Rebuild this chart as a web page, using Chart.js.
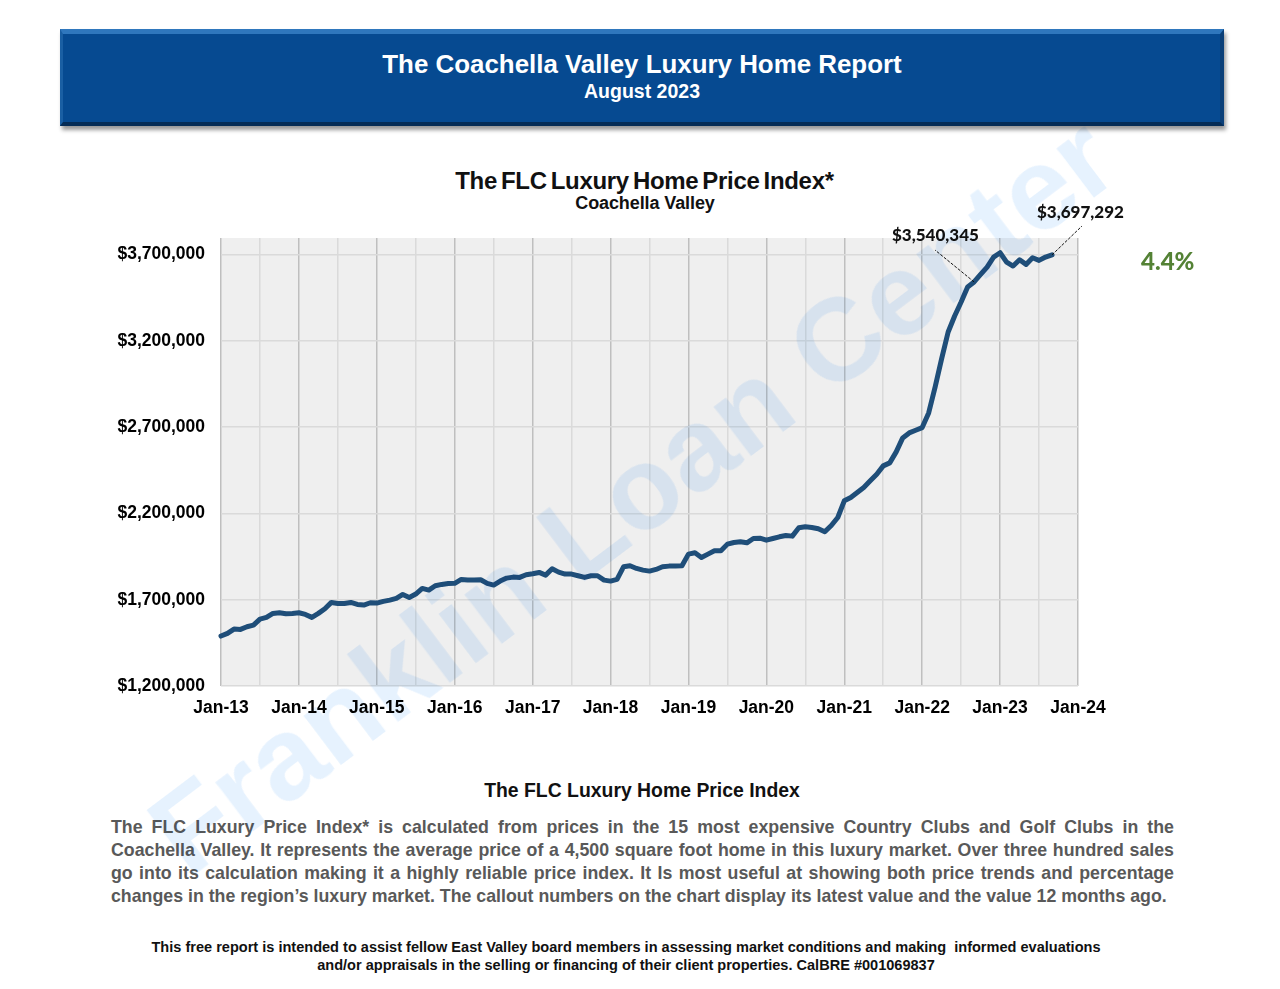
<!DOCTYPE html>
<html>
<head>
<meta charset="utf-8">
<title>The Coachella Valley Luxury Home Report</title>
<script src="https://cdn.jsdelivr.net/npm/chart.js@4"></script>
<style>
  html, body { margin: 0; padding: 0; background: #fff; }
  body { position: relative; width: 1280px; height: 989px; overflow: hidden; font-family: "Liberation Sans", Arial, sans-serif; font-weight: bold; }
  .txt { position: absolute; white-space: nowrap; line-height: 1; }
  .center { transform: translate(-50%, -50%); text-align: center; }
  #banner {
    position: absolute; left: 60px; top: 29px; width: 1164px; height: 97px; box-sizing: border-box;
    background: #064a91;
    border-top: 5px solid #2f77bd;
    border-left: 3px solid #1a5fa3;
    border-right: 4px solid #0a3f78;
    border-bottom: 4px solid #052c56;
    box-shadow: 2px 4px 4px rgba(0,0,0,0.4);
  }
  #chart_wrap { position: absolute; left: 100px; top: 215px; width: 1030px; height: 504px; }
  .para { position: absolute; left: 111px; width: 1063px; color: #595959; font-size: 17.75px; line-height: 23px; text-align: justify; text-align-last: justify; white-space: nowrap; }
  .callout { position: absolute; font-family: Lato, sans-serif; font-weight: 900; font-size: 17px; color: #111; line-height: 1; white-space: nowrap; }
  #marca {
    position: absolute; left: 632px; top: 495px; transform: translate(-50%, -50%) rotate(-37deg);
    font-size: 117px; color: #e6f2fe; mix-blend-mode: multiply; white-space: nowrap; pointer-events: none; line-height: 1;
  }
</style>
</head>
<body>
<div id="banner"></div>
<div class="txt center" style="left:642px;top:65px;color:#fff;font-size:25.9px">The Coachella Valley Luxury Home Report</div>
<div class="txt center" style="left:642px;top:92px;color:#fff;font-size:19.5px">August 2023</div>

<div class="txt center" style="left:644.5px;top:181px;font-size:24px;letter-spacing:-0.3px;word-spacing:-2.4px;color:#111">The FLC Luxury Home Price Index*</div>
<div class="txt center" style="left:645px;top:203px;font-size:18px;letter-spacing:-0.1px;color:#111">Coachella Valley</div>

<div id="chart_wrap"><canvas id="chart_indice"></canvas></div>

<div class="callout" style="left:892px;top:226px">$3,540,345</div>
<div class="callout" style="left:1037px;top:203px">$3,697,292</div>
<div class="txt" style="left:1141px;top:249px;font-family:Lato,sans-serif;font-weight:900;font-size:24px;color:#548235">4.4%</div>

<div class="txt center" style="left:642px;top:791px;font-size:19.4px;color:#111">The FLC Luxury Home Price Index</div>
<div class="para" style="top:816px">The FLC Luxury Price Index* is calculated from prices in the 15 most expensive Country Clubs and Golf Clubs in the</div>
<div class="para" style="top:839px">Coachella Valley. It represents the average price of a 4,500 square foot home in this luxury market. Over three hundred sales</div>
<div class="para" style="top:862px">go into its calculation making it a highly reliable price index. It Is most useful at showing both price trends and percentage</div>
<div class="para" style="top:885px;text-align:left;text-align-last:left">changes in the region’s luxury market. The callout numbers on the chart display its latest value and the value 12 months ago.</div>

<div class="txt center" style="left:626px;top:947px;font-size:14.55px;color:#111">This free report is intended to assist fellow East Valley board members in assessing market conditions and making&nbsp; informed evaluations</div>
<div class="txt center" style="left:626px;top:965px;font-size:14.55px;color:#111">and/or appraisals in the selling or financing of their client properties. CalBRE #001069837</div>

<div id="marca">Franklin Loan Center</div>

<script>
// one value per month, starting Jan-13
const prices = [
  1489350, 1504800, 1529850, 1527900, 1543400, 1553000, 1587700, 1597400, 1620600, 1624400, 1618600, 1620600,
  1624400, 1614700, 1597400, 1620600, 1647500, 1684200, 1678400, 1678400, 1684200, 1672600, 1668700, 1682200,
  1680300, 1690000, 1697700, 1707300, 1730500, 1713100, 1732400, 1765200, 1755500, 1780600, 1788400, 1794100,
  1795000, 1817300, 1813400, 1813400, 1815300, 1794100, 1784500, 1807600, 1825000, 1830800, 1828900, 1844300,
  1850100, 1857800, 1842400, 1879000, 1859700, 1848100, 1848100, 1838500, 1828900, 1838500, 1838500, 1813400,
  1807600, 1817300, 1890600, 1896400, 1880900, 1871300, 1865500, 1875100, 1890600, 1894400, 1894400, 1896400,
  1963900, 1971600, 1944600, 1963900, 1983200, 1983200, 2021800, 2031400, 2035300, 2029500, 2054500, 2056500,
  2044900, 2054500, 2064200, 2071900, 2068100, 2116300, 2122100, 2118200, 2110500, 2093100, 2129800, 2176100,
  2272500, 2291800, 2320700, 2349700, 2388300, 2426800, 2475100, 2492400, 2556100, 2637100, 2666000, 2681500,
  2696900, 2781800, 2932200, 3096200, 3250500, 3343100, 3424100, 3510900, 3540345, 3584200, 3626700, 3684500,
  3709600, 3655600, 3632500, 3669100, 3642100, 3680700, 3665300, 3684500, 3697292
];
const yearLabels = ['Jan-13','Jan-14','Jan-15','Jan-16','Jan-17','Jan-18','Jan-19','Jan-20','Jan-21','Jan-22','Jan-23','Jan-24'];
const yTicks = [1200000, 1700000, 2200000, 2700000, 3200000, 3700000];
const mesAnterior = 116;
const mesAtual = 128;

const fundo = {
  id: 'fundo',
  beforeDraw(chart) {
    const a = chart.chartArea;
    chart.ctx.fillStyle = '#efefef';
    chart.ctx.fillRect(a.left, a.top, a.right - a.left, a.bottom - a.top);
  }
};

// dashed leader lines from the callout numbers to the line
const chamadas = {
  id: 'chamadas',
  afterDatasetsDraw(chart) {
    const c = chart.ctx, x = chart.scales.x, y = chart.scales.y;
    c.save();
    c.strokeStyle = '#111';
    c.lineWidth = 1;
    c.setLineDash([3, 1.5]);
    c.beginPath();
    c.moveTo(x.getPixelForValue(mesAnterior), y.getPixelForValue(prices[mesAnterior]));
    c.lineTo(835, 35);
    c.moveTo(x.getPixelForValue(mesAtual), y.getPixelForValue(prices[mesAtual]));
    c.lineTo(982, 11);
    c.stroke();
    c.restore();
  }
};

const fonteEixo = { family: '"Liberation Sans", Arial, sans-serif', size: 17.5, weight: 'bold' };

new Chart(document.getElementById('chart_indice'), {
  type: 'line',
  data: {
    datasets: [{
      label: 'The FLC Luxury Home Price Index',
      data: prices.map((p, i) => ({ x: i, y: p })),
      borderColor: '#1f4e79',
      borderWidth: 5,
      borderJoinStyle: 'round',
      borderCapStyle: 'round',
      pointRadius: 0,
      tension: 0,
      clip: false
    }]
  },
  options: {
    responsive: true,
    maintainAspectRatio: false,
    animation: false,
    layout: { padding: { top: 23, right: 52, left: 0, bottom: 0 } },
    plugins: { legend: { display: false }, tooltip: { enabled: false } },
    scales: {
      x: {
        type: 'linear',
        min: 0,
        max: 132,
        afterFit(s) { s.height = 33; s.paddingLeft = 0; s.paddingRight = 0; },
        border: { display: false },
        grid: {
          drawTicks: false,
          lineWidth: 1.5,
          color: ctx => ctx.tick && ctx.tick.value % 12 === 0 ? '#bfbfbf' : '#dadada'
        },
        ticks: {
          stepSize: 6,
          autoSkip: false,
          maxRotation: 0,
          padding: 12,
          color: '#000',
          font: fonteEixo,
          callback: v => v % 12 === 0 ? yearLabels[v / 12] : ''
        }
      },
      y: {
        min: 1200000,
        max: 3795000,
        afterBuildTicks(s) { s.ticks = yTicks.map(v => ({ value: v })); },
        afterFit(s) { s.width = 121; s.paddingTop = 0; s.paddingBottom = 0; },
        border: { display: false },
        grid: { drawTicks: false, lineWidth: 1.5, color: '#dadada' },
        ticks: {
          padding: 16,
          color: '#000',
          font: fonteEixo,
          callback: v => '$' + v.toLocaleString('en-US')
        }
      }
    }
  },
  plugins: [fundo, chamadas]
});
</script>
</body>
</html>
